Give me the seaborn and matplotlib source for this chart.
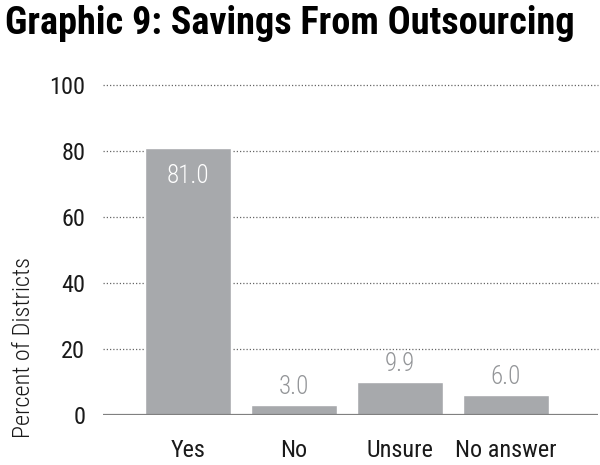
import seaborn as sns
import matplotlib.pyplot as plt
import pandas as pd

# Data
answers = ['Yes', 'No', 'Unsure', 'No answer']
percent = [81.0, 3.0, 9.9, 6.0]
yticks = [0, 20, 40, 60, 80, 100]

df = pd.DataFrame({'answer': answers, 'percent': percent})

sns.set_style('white')
plt.rcParams['font.family'] = ['Roboto Condensed', 'DejaVu Sans']
plt.rcParams['font.weight'] = 300

fig = plt.figure(figsize=(6, 4.65), dpi=100)
ax = fig.add_axes([0.172, 0.1075, 0.825, 0.7095])

bar_color = '#a7a9ac'
sns.barplot(data=df, x='answer', y='percent', color=bar_color, saturation=1,
            width=0.82, ax=ax, zorder=3)

ax.set_ylim(0, 100)
ax.set_xlim(-0.8, 3.87)
ax.set_yticks(yticks)
ax.set_yticklabels([str(t) for t in yticks], fontweight=400)
ax.set_xticks(range(len(answers)))
ax.set_xticklabels(answers, fontweight=400)

# dotted gridlines
for t in yticks[1:]:
    ax.axhline(t, color='#666666', linestyle=(0, (1, 1.6)), linewidth=0.9,
               zorder=1, clip_on=False)
ax.axhline(0, color='#808080', linewidth=1.6, zorder=4)

for s in ax.spines.values():
    s.set_visible(False)

ax.tick_params(axis='both', length=0, labelsize=17.5, labelcolor='#1a1a1a')
ax.tick_params(axis='y', pad=13)
ax.tick_params(axis='x', pad=17)
ax.set_xlabel('')
ax.set_ylabel('Percent of Districts', fontsize=17.5, fontweight=300, color='#1a1a1a')
ax.yaxis.set_label_coords(-0.138, 0.206)

# value labels
for i, v in enumerate(percent):
    if v > 50:
        ax.annotate(f'{v:.1f}', (i, v), xytext=(0, -12), textcoords='offset points',
                    ha='center', va='top', color='white',
                    fontsize=18, fontweight=300, zorder=5)
    else:
        ax.annotate(f'{v:.1f}', (i, v), xytext=(0, 4.5), textcoords='offset points',
                    ha='center', va='bottom', color='#939598',
                    fontsize=18, fontweight=300, zorder=5)

fig.text(0.008, 0.99, 'Graphic 9: Savings From Outsourcing', ha='left', va='top',
         fontsize=27.5, fontweight='bold', color='black')

fig.savefig('out.png', dpi=100)
